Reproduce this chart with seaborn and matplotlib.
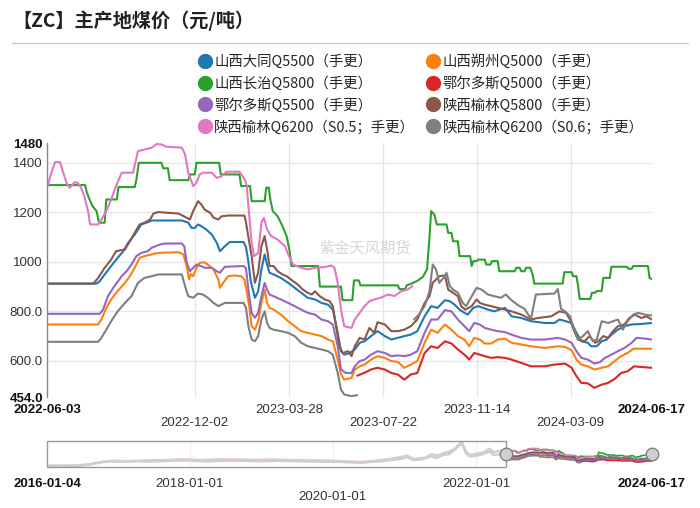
import matplotlib
matplotlib.use("Agg")
import numpy as np
import pandas as pd
import matplotlib.pyplot as plt
import matplotlib.transforms as mtransforms
from matplotlib.lines import Line2D
from matplotlib.patches import Rectangle
from matplotlib.font_manager import FontProperties
import seaborn as sns

# ---------------- data ----------------
title = "【ZC】主产地煤价（元/吨）"
watermark = "紫金天风期货"

names = ["山西大同Q5500（手更）", "山西朔州Q5000（手更）", "山西长治Q5800（手更）",
         "鄂尔多斯Q5000（手更）", "鄂尔多斯Q5500（手更）", "陕西榆林Q5800（手更）",
         "陕西榆林Q6200（S0.5；手更）", "陕西榆林Q6200（S0.6；手更）"]
colors = ["#1f77b4", "#ff7f0e", "#2ca02c", "#d62728", "#9467bd", "#8c564b", "#e377c2", "#7f7f7f"]

blue = [("2022-06-03", 912), ("2022-08-03", 912), ("2022-08-07", 922), ("2022-08-13", 949),
        ("2022-08-21", 983), ("2022-08-29", 1016), ("2022-09-05", 1043), ("2022-09-11", 1077),
        ("2022-09-19", 1110), ("2022-09-27", 1151), ("2022-10-05", 1160), ("2022-10-10", 1167),
        ("2022-11-16", 1167), ("2022-11-24", 1158), ("2022-11-28", 1137), ("2022-12-02", 1137),
        ("2022-12-06", 1151), ("2022-12-10", 1144), ("2022-12-16", 1131), ("2022-12-23", 1110),
        ("2022-12-29", 1077), ("2023-01-02", 1043), ("2023-01-08", 1063), ("2023-01-14", 1080),
        ("2023-01-31", 1080), ("2023-02-03", 1060), ("2023-02-06", 1000), ("2023-02-09", 920),
        ("2023-02-14", 855), ("2023-02-18", 880), ("2023-02-22", 969), ("2023-02-26", 1030),
        ("2023-03-01", 989), ("2023-03-04", 956), ("2023-03-09", 949), ("2023-03-18", 935),
        ("2023-03-27", 915), ("2023-04-04", 895), ("2023-04-12", 875), ("2023-04-20", 855),
        ("2023-04-29", 848), ("2023-05-07", 834), ("2023-05-15", 827), ("2023-05-21", 807),
        ("2023-05-27", 713), ("2023-05-31", 639), ("2023-06-04", 625), ("2023-06-11", 632),
        ("2023-06-17", 646), ("2023-06-23", 673), ("2023-06-29", 679), ("2023-07-07", 700),
        ("2023-07-15", 720), ("2023-07-24", 700), ("2023-08-01", 686), ("2023-08-09", 693),
        ("2023-08-17", 700), ("2023-08-25", 706), ("2023-09-02", 720), ("2023-09-11", 780),
        ("2023-09-19", 821), ("2023-09-27", 814), ("2023-10-06", 845), ("2023-10-12", 841),
        ("2023-10-18", 827), ("2023-10-24", 807), ("2023-10-30", 794), ("2023-11-03", 787),
        ("2023-11-10", 814), ("2023-11-16", 821), ("2023-11-22", 814), ("2023-11-28", 807),
        ("2023-12-06", 800), ("2023-12-12", 807), ("2023-12-19", 814), ("2023-12-27", 780),
        ("2024-01-08", 773), ("2024-01-20", 760), ("2024-02-06", 753), ("2024-02-18", 753),
        ("2024-02-24", 767), ("2024-03-03", 760), ("2024-03-10", 753), ("2024-03-16", 713),
        ("2024-03-22", 679), ("2024-03-30", 673), ("2024-04-03", 659), ("2024-04-10", 659),
        ("2024-04-16", 679), ("2024-04-22", 686), ("2024-04-28", 706), ("2024-05-06", 726),
        ("2024-05-14", 740), ("2024-05-23", 747), ("2024-06-04", 749), ("2024-06-17", 753)]

orange = [("2022-06-03", 747), ("2022-08-05", 747), ("2022-08-09", 767), ("2022-08-15", 814),
          ("2022-08-21", 848), ("2022-08-29", 882), ("2022-09-07", 915), ("2022-09-13", 942),
          ("2022-09-19", 976), ("2022-09-25", 1016), ("2022-10-01", 1023), ("2022-10-10", 1030),
          ("2022-10-18", 1036), ("2022-11-12", 1039), ("2022-11-18", 1030), ("2022-11-22", 983),
          ("2022-11-25", 929), ("2022-11-27", 950), ("2022-11-30", 942), ("2022-12-04", 976),
          ("2022-12-08", 996), ("2022-12-14", 998), ("2022-12-18", 989), ("2022-12-25", 969),
          ("2022-12-31", 929), ("2023-01-02", 895), ("2023-01-06", 915), ("2023-01-12", 942),
          ("2023-01-20", 945), ("2023-01-28", 942), ("2023-02-01", 929), ("2023-02-04", 880),
          ("2023-02-07", 821), ("2023-02-10", 740), ("2023-02-14", 726), ("2023-02-18", 760),
          ("2023-02-22", 834), ("2023-02-26", 888), ("2023-03-01", 834), ("2023-03-04", 814),
          ("2023-03-09", 807), ("2023-03-18", 787), ("2023-03-27", 760), ("2023-04-04", 740),
          ("2023-04-12", 720), ("2023-04-20", 713), ("2023-04-29", 706), ("2023-05-07", 700),
          ("2023-05-15", 686), ("2023-05-21", 679), ("2023-05-27", 605), ("2023-05-31", 545),
          ("2023-06-04", 524), ("2023-06-13", 531), ("2023-06-17", 565), ("2023-06-23", 578),
          ("2023-06-29", 585), ("2023-07-07", 605), ("2023-07-15", 619), ("2023-07-24", 612),
          ("2023-08-01", 599), ("2023-08-09", 596), ("2023-08-17", 572), ("2023-08-25", 585),
          ("2023-09-02", 599), ("2023-09-11", 673), ("2023-09-19", 726), ("2023-09-27", 713),
          ("2023-10-06", 747), ("2023-10-14", 726), ("2023-10-22", 700), ("2023-10-30", 686),
          ("2023-11-05", 659), ("2023-11-11", 693), ("2023-11-18", 686), ("2023-11-24", 670),
          ("2023-12-02", 670), ("2023-12-10", 686), ("2023-12-19", 690), ("2023-12-27", 673),
          ("2024-01-08", 666), ("2024-01-20", 659), ("2024-02-06", 652), ("2024-02-22", 659),
          ("2024-03-02", 656), ("2024-03-10", 643), ("2024-03-16", 605), ("2024-03-22", 585),
          ("2024-03-30", 578), ("2024-04-07", 565), ("2024-04-16", 572), ("2024-04-24", 578),
          ("2024-05-02", 599), ("2024-05-10", 619), ("2024-05-18", 632), ("2024-05-25", 649),
          ("2024-06-17", 649)]

green = [("2022-06-03", 1310), ("2022-07-20", 1310), ("2022-07-22", 1280), ("2022-07-25", 1255),
         ("2022-07-29", 1225), ("2022-08-03", 1205), ("2022-08-06", 1158), ("2022-08-13", 1158),
         ("2022-08-15", 1252), ("2022-08-28", 1252), ("2022-08-30", 1302), ("2022-09-19", 1302),
         ("2022-09-21", 1330), ("2022-09-24", 1400), ("2022-10-22", 1400), ("2022-10-24", 1378),
         ("2022-10-30", 1378), ("2022-11-01", 1330), ("2022-11-24", 1330), ("2022-11-26", 1353),
         ("2022-12-02", 1353), ("2022-12-04", 1400), ("2023-01-01", 1400), ("2023-01-03", 1353),
         ("2023-01-26", 1353), ("2023-01-28", 1306), ("2023-02-08", 1306), ("2023-02-10", 1245),
         ("2023-02-26", 1245), ("2023-02-28", 1300), ("2023-03-03", 1300), ("2023-03-05", 1252),
         ("2023-03-08", 1205), ("2023-03-14", 1184), ("2023-03-20", 1144), ("2023-03-25", 1104),
         ("2023-03-29", 1040), ("2023-03-31", 983), ("2023-05-03", 983), ("2023-05-05", 900),
         ("2023-05-31", 900), ("2023-06-02", 845), ("2023-06-14", 845), ("2023-06-16", 925),
         ("2023-06-22", 925), ("2023-06-24", 905), ("2023-08-09", 905), ("2023-08-11", 890),
         ("2023-08-18", 890), ("2023-08-20", 905), ("2023-08-28", 915), ("2023-09-03", 925),
         ("2023-09-09", 940), ("2023-09-14", 970), ("2023-09-17", 1100), ("2023-09-19", 1205),
         ("2023-09-23", 1191), ("2023-09-26", 1151), ("2023-10-08", 1151), ("2023-10-10", 1117),
         ("2023-10-14", 1117), ("2023-10-16", 1083), ("2023-10-22", 1083), ("2023-10-24", 1023),
         ("2023-11-06", 1023), ("2023-11-08", 983), ("2023-11-10", 1003), ("2023-11-14", 1003),
         ("2023-11-16", 1009), ("2023-11-24", 1009), ("2023-11-26", 989), ("2023-12-01", 989),
         ("2023-12-03", 1003), ("2023-12-10", 1003), ("2023-12-12", 962), ("2023-12-31", 962),
         ("2024-01-02", 976), ("2024-01-06", 976), ("2024-01-08", 962), ("2024-01-12", 962),
         ("2024-01-14", 976), ("2024-01-19", 976), ("2024-01-22", 949), ("2024-01-24", 912),
         ("2024-02-28", 912), ("2024-03-01", 958), ("2024-03-10", 958), ("2024-03-12", 942),
         ("2024-03-16", 942), ("2024-03-18", 902), ("2024-03-20", 850), ("2024-04-02", 850),
         ("2024-04-04", 875), ("2024-04-08", 875), ("2024-04-10", 882), ("2024-04-16", 882),
         ("2024-04-18", 935), ("2024-04-26", 935), ("2024-04-28", 980), ("2024-05-17", 980),
         ("2024-05-19", 972), ("2024-05-23", 972), ("2024-05-25", 983), ("2024-06-12", 983),
         ("2024-06-14", 935), ("2024-06-17", 930)]

red = [("2023-06-20", 540), ("2023-06-29", 552), ("2023-07-07", 565), ("2023-07-15", 572),
       ("2023-07-24", 565), ("2023-08-01", 551), ("2023-08-09", 545), ("2023-08-17", 524),
       ("2023-08-25", 545), ("2023-09-02", 551), ("2023-09-11", 632), ("2023-09-19", 659),
       ("2023-09-27", 652), ("2023-10-06", 679), ("2023-10-14", 670), ("2023-10-22", 646),
       ("2023-10-30", 625), ("2023-11-05", 605), ("2023-11-11", 632), ("2023-11-18", 625),
       ("2023-11-24", 619), ("2023-12-02", 612), ("2023-12-10", 615), ("2023-12-19", 612),
       ("2023-12-27", 605), ("2024-01-08", 592), ("2024-01-20", 578), ("2024-02-06", 578),
       ("2024-02-18", 585), ("2024-03-02", 589), ("2024-03-10", 572), ("2024-03-16", 538),
       ("2024-03-22", 511), ("2024-03-30", 509), ("2024-04-07", 491), ("2024-04-16", 504),
       ("2024-04-24", 511), ("2024-05-02", 527), ("2024-05-10", 551), ("2024-05-18", 558),
       ("2024-05-26", 578), ("2024-06-04", 575), ("2024-06-17", 572)]

purple = [("2022-06-03", 790), ("2022-08-07", 790), ("2022-08-11", 807), ("2022-08-17", 861),
          ("2022-08-25", 902), ("2022-09-03", 942), ("2022-09-09", 962), ("2022-09-15", 989),
          ("2022-09-21", 1023), ("2022-09-27", 1036), ("2022-10-05", 1043), ("2022-10-10", 1057),
          ("2022-10-20", 1070), ("2022-10-26", 1074), ("2022-11-16", 1074), ("2022-11-19", 1063),
          ("2022-11-22", 996), ("2022-11-26", 962), ("2022-11-30", 976), ("2022-12-04", 989),
          ("2022-12-08", 985), ("2022-12-14", 976), ("2022-12-23", 976), ("2022-12-29", 962),
          ("2023-01-02", 956), ("2023-01-08", 980), ("2023-01-31", 983), ("2023-02-03", 975),
          ("2023-02-06", 888), ("2023-02-10", 794), ("2023-02-14", 774), ("2023-02-18", 794),
          ("2023-02-22", 861), ("2023-02-26", 915), ("2023-03-01", 888), ("2023-03-04", 868),
          ("2023-03-09", 861), ("2023-03-18", 848), ("2023-03-27", 834), ("2023-04-04", 821),
          ("2023-04-12", 807), ("2023-04-20", 794), ("2023-04-29", 787), ("2023-05-07", 767),
          ("2023-05-15", 760), ("2023-05-21", 747), ("2023-05-27", 659), ("2023-05-31", 565),
          ("2023-06-06", 551), ("2023-06-13", 551), ("2023-06-17", 578), ("2023-06-23", 599),
          ("2023-06-29", 605), ("2023-07-07", 625), ("2023-07-15", 639), ("2023-07-24", 632),
          ("2023-08-01", 619), ("2023-08-09", 622), ("2023-08-17", 619), ("2023-08-25", 625),
          ("2023-09-02", 639), ("2023-09-11", 713), ("2023-09-19", 767), ("2023-09-27", 767),
          ("2023-10-06", 805), ("2023-10-14", 800), ("2023-10-22", 767), ("2023-10-30", 740),
          ("2023-11-05", 720), ("2023-11-11", 753), ("2023-11-18", 747), ("2023-11-24", 733),
          ("2023-12-02", 726), ("2023-12-10", 720), ("2023-12-19", 716), ("2023-12-27", 706),
          ("2024-01-08", 693), ("2024-01-20", 686), ("2024-02-06", 686), ("2024-02-22", 693),
          ("2024-03-02", 686), ("2024-03-10", 673), ("2024-03-16", 639), ("2024-03-22", 612),
          ("2024-03-30", 605), ("2024-04-07", 589), ("2024-04-14", 595), ("2024-04-20", 612),
          ("2024-04-28", 625), ("2024-05-06", 639), ("2024-05-14", 652), ("2024-05-23", 673),
          ("2024-05-29", 693), ("2024-06-08", 690), ("2024-06-17", 686)]

brown = [("2022-06-03", 912), ("2022-07-30", 912), ("2022-08-05", 935), ("2022-08-13", 976),
         ("2022-08-21", 1009), ("2022-08-27", 1043), ("2022-09-07", 1050), ("2022-09-13", 1083),
         ("2022-09-19", 1117), ("2022-09-25", 1151), ("2022-10-01", 1158), ("2022-10-08", 1171),
         ("2022-10-12", 1195), ("2022-10-18", 1201), ("2022-10-30", 1198), ("2022-11-12", 1195),
         ("2022-11-22", 1178), ("2022-11-26", 1171), ("2022-11-30", 1205), ("2022-12-06", 1245),
         ("2022-12-10", 1232), ("2022-12-14", 1211), ("2022-12-21", 1198), ("2022-12-25", 1178),
         ("2022-12-31", 1171), ("2023-01-04", 1184), ("2023-01-12", 1187), ("2023-02-01", 1187),
         ("2023-02-03", 1160), ("2023-02-06", 1100), ("2023-02-10", 1023), ("2023-02-14", 915),
         ("2023-02-18", 956), ("2023-02-22", 1063), ("2023-02-26", 1104), ("2023-03-01", 1050),
         ("2023-03-04", 983), ("2023-03-09", 983), ("2023-03-14", 962), ("2023-03-20", 949),
         ("2023-03-25", 942), ("2023-04-02", 922), ("2023-04-08", 908), ("2023-04-14", 888),
         ("2023-04-20", 875), ("2023-04-25", 868), ("2023-04-29", 881), ("2023-05-05", 861),
         ("2023-05-11", 848), ("2023-05-17", 841), ("2023-05-21", 821), ("2023-05-25", 740),
         ("2023-05-29", 659), ("2023-06-02", 632), ("2023-06-09", 639), ("2023-06-13", 619),
         ("2023-06-17", 659), ("2023-06-23", 693), ("2023-06-29", 686), ("2023-07-05", 733),
         ("2023-07-11", 713), ("2023-07-15", 756), ("2023-07-24", 747), ("2023-08-01", 720),
         ("2023-08-09", 720), ("2023-08-17", 726), ("2023-08-25", 740), ("2023-09-02", 767),
         ("2023-09-11", 834), ("2023-09-17", 861), ("2023-09-21", 915), ("2023-09-25", 928),
         ("2023-09-29", 942), ("2023-10-06", 945), ("2023-10-10", 888), ("2023-10-16", 875),
         ("2023-10-22", 861), ("2023-10-26", 821), ("2023-10-31", 807), ("2023-11-08", 821),
         ("2023-11-14", 848), ("2023-11-18", 834), ("2023-11-24", 827), ("2023-12-02", 821),
         ("2023-12-10", 814), ("2023-12-19", 807), ("2023-12-27", 800), ("2024-01-08", 787),
         ("2024-01-20", 767), ("2024-01-28", 773), ("2024-02-14", 780), ("2024-02-24", 800),
         ("2024-03-03", 794), ("2024-03-08", 767), ("2024-03-14", 713), ("2024-03-18", 686),
         ("2024-03-26", 679), ("2024-04-01", 700), ("2024-04-08", 673), ("2024-04-12", 679),
         ("2024-04-18", 700), ("2024-04-24", 693), ("2024-04-30", 720), ("2024-05-06", 740),
         ("2024-05-14", 747), ("2024-05-20", 773), ("2024-05-27", 787), ("2024-06-04", 773),
         ("2024-06-10", 780), ("2024-06-17", 767)]

pink = [("2022-06-04", 1306), ("2022-06-07", 1346), ("2022-06-13", 1403), ("2022-06-19", 1403),
        ("2022-06-23", 1360), ("2022-06-27", 1319), ("2022-07-01", 1299), ("2022-07-07", 1322),
        ("2022-07-11", 1319), ("2022-07-15", 1299), ("2022-07-19", 1265), ("2022-07-24", 1198),
        ("2022-07-26", 1151), ("2022-08-05", 1151), ("2022-08-09", 1171), ("2022-08-15", 1205),
        ("2022-08-21", 1252), ("2022-08-27", 1306), ("2022-09-03", 1360), ("2022-09-17", 1360),
        ("2022-09-23", 1447), ("2022-10-10", 1461), ("2022-10-16", 1476), ("2022-10-22", 1474),
        ("2022-10-28", 1465), ("2022-11-16", 1461), ("2022-11-20", 1434), ("2022-11-24", 1360),
        ("2022-11-30", 1306), ("2022-12-04", 1319), ("2022-12-08", 1353), ("2022-12-12", 1360),
        ("2022-12-23", 1360), ("2022-12-29", 1339), ("2023-01-04", 1346), ("2023-01-10", 1364),
        ("2023-01-26", 1364), ("2023-02-02", 1330), ("2023-02-04", 1306), ("2023-02-06", 1225),
        ("2023-02-10", 1077), ("2023-02-13", 1023), ("2023-02-18", 1036), ("2023-02-22", 1158),
        ("2023-02-25", 1178), ("2023-03-01", 1131), ("2023-03-06", 1104), ("2023-03-14", 1090),
        ("2023-03-23", 1063), ("2023-03-27", 1030), ("2023-04-02", 989), ("2023-04-12", 976),
        ("2023-04-20", 969), ("2023-04-29", 976), ("2023-05-11", 979), ("2023-05-19", 985),
        ("2023-05-23", 976), ("2023-05-27", 915), ("2023-05-31", 807), ("2023-06-04", 740),
        ("2023-06-13", 733), ("2023-06-17", 767), ("2023-06-23", 794), ("2023-06-29", 821),
        ("2023-07-05", 841), ("2023-07-11", 848), ("2023-07-19", 855), ("2023-07-28", 868),
        ("2023-08-05", 862), ("2023-08-13", 881), ("2023-08-21", 888), ("2023-08-27", 902)]

grey_early = [("2022-06-03", 677), ("2022-08-05", 677), ("2022-08-09", 693), ("2022-08-15", 726),
              ("2022-08-21", 760), ("2022-08-29", 800), ("2022-09-07", 834), ("2022-09-15", 861),
              ("2022-09-23", 915), ("2022-10-01", 935), ("2022-10-10", 942), ("2022-10-18", 949),
              ("2022-11-16", 949), ("2022-11-20", 902), ("2022-11-24", 861), ("2022-11-30", 855),
              ("2022-12-06", 872), ("2022-12-12", 868), ("2022-12-18", 855), ("2022-12-25", 834),
              ("2022-12-31", 821), ("2023-01-08", 834), ("2023-01-31", 834), ("2023-02-03", 815),
              ("2023-02-06", 740), ("2023-02-10", 686), ("2023-02-14", 679), ("2023-02-18", 700),
              ("2023-02-22", 767), ("2023-02-26", 800), ("2023-03-01", 753), ("2023-03-04", 733),
              ("2023-03-09", 726), ("2023-03-18", 720), ("2023-03-27", 713), ("2023-04-04", 700),
              ("2023-04-12", 673), ("2023-04-20", 659), ("2023-04-29", 652), ("2023-05-07", 646),
              ("2023-05-15", 639), ("2023-05-21", 625), ("2023-05-27", 551), ("2023-05-31", 484),
              ("2023-06-04", 464), ("2023-06-13", 457), ("2023-06-20", 462)]

grey_late = [("2023-08-29", 767), ("2023-09-04", 787), ("2023-09-11", 821), ("2023-09-17", 881),
             ("2023-09-21", 989), ("2023-09-25", 969), ("2023-09-29", 915), ("2023-10-06", 942),
             ("2023-10-08", 956), ("2023-10-12", 902), ("2023-10-16", 888), ("2023-10-22", 875),
             ("2023-10-28", 834), ("2023-11-01", 821), ("2023-11-08", 861), ("2023-11-14", 895),
             ("2023-11-20", 888), ("2023-11-28", 868), ("2023-12-06", 861), ("2023-12-14", 855),
             ("2023-12-20", 868), ("2023-12-27", 845), ("2024-01-04", 825), ("2024-01-12", 810),
             ("2024-01-20", 770), ("2024-01-26", 868), ("2024-02-18", 872), ("2024-02-22", 890),
             ("2024-02-26", 810), ("2024-03-02", 800), ("2024-03-08", 780), ("2024-03-14", 720),
             ("2024-03-18", 686), ("2024-03-24", 700), ("2024-03-30", 720), ("2024-04-05", 679),
             ("2024-04-10", 686), ("2024-04-16", 760), ("2024-04-24", 753), ("2024-04-30", 760),
             ("2024-05-06", 767), ("2024-05-12", 726), ("2024-05-18", 760), ("2024-05-25", 787),
             ("2024-05-31", 794), ("2024-06-08", 787), ("2024-06-17", 783)]

# history shown (faded) in the range navigator
hist_a = [("2016-01-04", 250), ("2016-06-01", 260), ("2016-08-01", 330), ("2016-10-01", 480),
          ("2016-11-15", 560), ("2017-01-01", 520), ("2017-04-01", 560), ("2017-07-01", 540),
          ("2017-10-01", 600), ("2018-01-01", 610), ("2018-04-01", 540), ("2018-07-01", 600),
          ("2018-10-01", 590), ("2019-01-01", 560), ("2019-04-01", 590), ("2019-07-01", 560),
          ("2019-10-01", 540), ("2020-01-01", 530), ("2020-04-01", 480), ("2020-06-01", 460),
          ("2020-09-01", 560), ("2020-12-01", 700), ("2021-01-15", 850), ("2021-02-15", 650),
          ("2021-04-01", 700), ("2021-05-15", 900), ("2021-06-15", 800), ("2021-07-15", 1000),
          ("2021-08-15", 1050), ("2021-09-15", 1400), ("2021-10-20", 1850), ("2021-11-10", 1150),
          ("2021-12-01", 900), ("2022-01-01", 950), ("2022-02-01", 1050), ("2022-03-10", 1250),
          ("2022-04-01", 1000), ("2022-05-01", 1050), ("2022-06-03", 912)]
hist_b = [("2016-01-04", 200), ("2016-06-01", 210), ("2016-08-01", 300), ("2016-10-15", 520),
          ("2016-12-01", 600), ("2017-03-01", 560), ("2017-06-01", 620), ("2017-09-01", 640),
          ("2017-12-01", 700), ("2018-03-01", 640), ("2018-06-01", 690), ("2018-09-01", 680),
          ("2018-12-01", 650), ("2019-03-01", 680), ("2019-06-01", 640), ("2019-09-01", 620),
          ("2019-12-01", 600), ("2020-03-01", 560), ("2020-05-15", 500), ("2020-08-01", 580),
          ("2020-11-01", 750), ("2021-01-15", 950), ("2021-02-20", 720), ("2021-04-15", 800),
          ("2021-05-20", 1050), ("2021-06-20", 950), ("2021-07-20", 1150), ("2021-08-20", 1250),
          ("2021-09-20", 1500), ("2021-10-20", 1980), ("2021-11-10", 1250), ("2021-12-01", 1000),
          ("2022-01-10", 1100), ("2022-02-10", 1200), ("2022-03-10", 1450), ("2022-04-01", 1200),
          ("2022-05-01", 1300), ("2022-06-03", 1306)]

x_start, x_end = "2022-06-03", "2024-06-17"
nav_start = "2016-01-04"
y_min, y_max = 454, 1480
y_ticks = [454, 600, 800, 1000, 1200, 1400, 1480]
y_labels = ["454.0", "600.0", "800.0", "1000", "1200", "1400", "1480"]
x_ticks = ["2022-06-03", "2022-12-02", "2023-03-28", "2023-07-22", "2023-11-14", "2024-03-09", "2024-06-17"]
nav_ticks = ["2016-01-04", "2018-01-01", "2020-01-01", "2022-01-01", "2024-06-17"]

# ---------------- drawing ----------------
sns.set_theme(style="white")
plt.rcParams['font.family'] = ['Noto Sans CJK SC', 'DejaVu Sans']
LAT = ['Liberation Sans', 'DejaVu Sans']


def frame(pairs):
    df = pd.DataFrame(pairs, columns=["date", "value"])
    df["date"] = pd.to_datetime(df["date"])
    return df


fig = plt.figure(figsize=(7, 5.08), dpi=100)
W, H = 700.0, 508.0
ax = fig.add_axes([47 / W, 111 / H, 605 / W, 254 / H])

series_data = [blue, orange, green, red, purple, brown, pink, grey_early]
for pairs, col in zip(series_data, colors):
    sns.lineplot(data=frame(pairs), x="date", y="value", ax=ax, color=col,
                 linewidth=1.5, estimator=None, sort=False)
sns.lineplot(data=frame(grey_late), x="date", y="value", ax=ax, color=colors[7],
             linewidth=1.5, estimator=None, sort=False)

ax.set_xlim(pd.Timestamp(x_start), pd.Timestamp(x_end))
ax.set_ylim(y_min, y_max)
ax.set_xlabel("")
ax.set_ylabel("")
for s in ["top", "right", "bottom"]:
    ax.spines[s].set_visible(False)
ax.spines["left"].set_color("#888888")
ax.spines["left"].set_linewidth(1.0)

for v in y_ticks[1:-1]:
    ax.axhline(v, color="#e6e6e6", lw=1.0, zorder=0)
for d in x_ticks[1:-1]:
    ax.axvline(pd.Timestamp(d), color="#e6e6e6", lw=1.0, zorder=0)

ax.set_yticks(y_ticks)
ax.set_yticklabels(y_labels)
ax.tick_params(axis="both", length=0, pad=3, colors="#333333")
for i, lab in enumerate(ax.get_yticklabels()):
    lab.set_fontfamily(LAT)
    lab.set_fontsize(9.5)
    lab.set_color("#333333")
    if i in (0, len(y_ticks) - 1):
        lab.set_fontweight("bold")
        lab.set_color("#111111")

ax.set_xticks(pd.to_datetime(x_ticks))
ax.set_xticklabels(x_ticks)
ax.tick_params(axis="x", pad=5)
down = mtransforms.ScaledTranslation(0, -13 / 100, fig.dpi_scale_trans)
for i, lab in enumerate(ax.get_xticklabels()):
    lab.set_fontfamily(LAT)
    lab.set_fontsize(9.5)
    lab.set_color("#333333")
    if i in (0, len(x_ticks) - 1):
        lab.set_fontweight("bold")
        lab.set_color("#111111")
    if i in (1, 3, 5):
        lab.set_transform(lab.get_transform() + down)

ax.text(0.525, 0.585, watermark, transform=ax.transAxes, ha="center", va="center",
        color="#d6d6d6", fontsize=11)

# title + separator
fig.text(12 / W, 1 - 21 / H, title, ha="left", va="center", fontsize=13.8,
         fontweight="bold", color="#222222")
fig.add_artist(Line2D([12 / W, 688 / W], [1 - 43 / H, 1 - 43 / H], color="#c8c8c8", lw=1.0))

# legend (column-major order so that rows match the reference)
order = [0, 2, 4, 6, 1, 3, 5, 7]
handles = [Line2D([], [], ls="none", marker="o", markersize=10, markerfacecolor=colors[i],
                  markeredgecolor=colors[i]) for i in order]
labels = [names[i] for i in order]
fig.legend(handles, labels, ncol=2, loc="upper left", bbox_to_anchor=(199 / W, 1 - 54 / H),
           frameon=False, prop=FontProperties(family="Noto Sans CJK SC", size=10.4),
           handlelength=0.8, handletextpad=0.25, columnspacing=0.85, labelspacing=0.5,
           borderpad=0, borderaxespad=0)

# ---------------- range navigator ----------------
nav = fig.add_axes([47 / W, 41 / H, 605 / W, 26 / H])
for pairs, col in zip([hist_a, hist_b], ["#c9cfd8", "#d8c9d3"]):
    sns.lineplot(data=frame(pairs), x="date", y="value", ax=nav, color=col,
                 linewidth=1.8, estimator=None, sort=False)
for pairs, col in zip(series_data, colors):
    sns.lineplot(data=frame(pairs), x="date", y="value", ax=nav, color=col,
                 linewidth=1.1, estimator=None, sort=False)
sns.lineplot(data=frame(grey_late), x="date", y="value", ax=nav, color=colors[7],
             linewidth=1.1, estimator=None, sort=False)
nav.set_xlim(pd.Timestamp(nav_start), pd.Timestamp(x_end))
nav.set_ylim(150, 2000)
nav.set_xlabel("")
nav.set_ylabel("")
nav.set_yticks([])
for s in nav.spines.values():
    s.set_visible(False)
for d in nav_ticks[1:-1]:
    nav.axvline(pd.Timestamp(d), color="#f0f0f0", lw=0.8, zorder=0)
bt = mtransforms.blended_transform_factory(nav.transData, nav.transAxes)
x0 = matplotlib.dates.date2num(pd.Timestamp(nav_start))
x1 = matplotlib.dates.date2num(pd.Timestamp(x_start))
nav.add_patch(Rectangle((x0, 0), x1 - x0, 1, transform=bt, fill=False,
                        edgecolor="#999999", lw=1.0, clip_on=False, zorder=5))
for d in [x_start, x_end]:
    nav.plot([pd.Timestamp(d)], [0.5], transform=bt, marker="o", markersize=9,
             markerfacecolor="#d0d0d0", markeredgecolor="#808080", clip_on=False, zorder=6)
nav.set_xticks(pd.to_datetime(nav_ticks))
nav.set_xticklabels(nav_ticks)
nav.tick_params(axis="x", length=0, pad=8)
for i, lab in enumerate(nav.get_xticklabels()):
    lab.set_fontfamily(LAT)
    lab.set_fontsize(9.5)
    lab.set_color("#333333")
    if i in (0, len(nav_ticks) - 1):
        lab.set_fontweight("bold")
        lab.set_color("#111111")
    if i == 2:
        lab.set_transform(lab.get_transform() + down)

fig.savefig("out.png", dpi=100)
